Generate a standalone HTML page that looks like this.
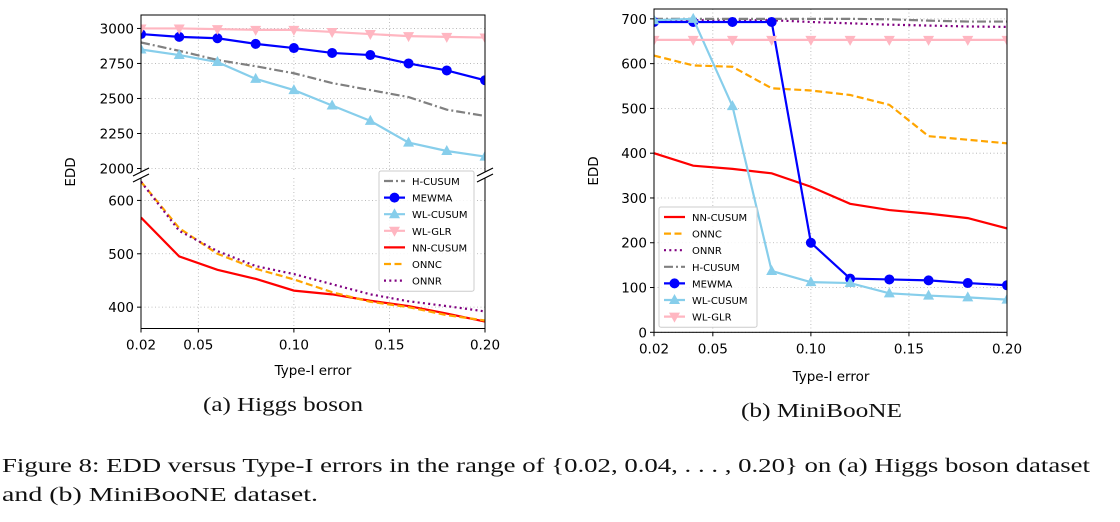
<!DOCTYPE html>
<html><head><meta charset="utf-8"><style>
html,body{margin:0;padding:0;background:#fff;width:1120px;height:522px;overflow:hidden}
svg{display:block}
svg text{font-family:"DejaVu Sans","Liberation Sans",sans-serif}
.cap{font-family:"Liberation Serif",serif;fill:#111}
</style></head><body>
<svg id="fig" width="1120" height="522" xmlns="http://www.w3.org/2000/svg">
<g id="A"></g>
<g id="B"></g>
<text class="cap" x="203" y="411" font-size="20" textLength="160" lengthAdjust="spacingAndGlyphs">(a) Higgs boson</text>
<text class="cap" x="741" y="417" font-size="20" textLength="161" lengthAdjust="spacingAndGlyphs">(b) MiniBooNE</text>
<text class="cap" x="2" y="472" font-size="20" textLength="1088" lengthAdjust="spacingAndGlyphs">Figure 8: EDD versus Type-I errors in the range of {0.02, 0.04, . . . , 0.20} on (a) Higgs boson dataset</text>
<text class="cap" x="2" y="501" font-size="20" textLength="316" lengthAdjust="spacingAndGlyphs">and (b) MiniBooNE dataset.</text>
</svg>
<script>
const xs=[0.02,0.04,0.06,0.08,0.10,0.12,0.14,0.16,0.18,0.20];
const xTicks=[0.02,0.05,0.10,0.15,0.20];
const xTickLabels=["0.02","0.05","0.10","0.15","0.20"];
// Higgs
const higgsWLGLR=[3000,3000,2995,2990,2990,2975,2960,2945,2940,2935];
const higgsMEWMA=[2960,2940,2930,2890,2860,2825,2810,2750,2700,2630];
const higgsHCUSUM=[2900,2840,2775,2730,2680,2610,2560,2510,2420,2375];
const higgsWLCUSUM=[2850,2810,2760,2640,2560,2450,2340,2185,2125,2085];
const higgsNNCUSUM=[568,495,470,453,431,424,412,402,388,373];
const higgsONNC=[635,548,500,472,452,428,410,400,385,375];
const higgsONNR=[635,543,505,477,462,443,424,411,402,392];
const higgsUpperTicks=[2000,2250,2500,2750,3000];
const higgsLowerTicks=[400,500,600];
// MiniBooNE
const mbNNCUSUM=[400,372,365,355,325,287,273,265,255,232];
const mbONNC=[618,596,593,545,540,530,508,438,430,422];
const mbONNR=[697,697,697,697,693,690,687,685,683,682];
const mbHCUSUM=[700,700,700,700,700,700,699,696,694,694];
const mbMEWMA=[693,693,693,693,200,120,118,116,110,105];
const mbWLCUSUM=[697,700,505,137,112,110,87,82,78,73];
const mbWLGLR=[653,653,653,653,653,653,653,653,653,653];
const mbTicks=[0,100,200,300,400,500,600,700];

const NS="http://www.w3.org/2000/svg";
function el(p,t,a){const e=document.createElementNS(NS,t);for(const k in a)e.setAttribute(k,a[k]);p.appendChild(e);return e;}
const STY={
 "NN-CUSUM":{c:"#ff0000",d:"",m:null},
 "ONNC":{c:"#ffa500",d:"7,3.5",m:null},
 "ONNR":{c:"#800080",d:"2,3.3",m:null},
 "H-CUSUM":{c:"#808080",d:"9,3,2,3",m:null},
 "MEWMA":{c:"#0000ff",d:"",m:"o"},
 "WL-CUSUM":{c:"#87ceeb",d:"",m:"^"},
 "WL-GLR":{c:"#ffb6c1",d:"",m:"v"}};
function marker(g,m,x,y,c){
 let e;
 if(m==="o")e=el(g,"circle",{cx:x,cy:y,r:5,fill:c});
 else if(m==="^")e=el(g,"polygon",{points:`${x},${y-6} ${x-5.5},${y+4} ${x+5.5},${y+4}`,fill:c});
 else e=el(g,"polygon",{points:`${x},${y+6} ${x-5.5},${y-4} ${x+5.5},${y-4}`,fill:c});
 
 
}
function series(g,name,vals,sx,sy,clip){
 const s=STY[name];
 const grp=el(g,"g",{});
 
 
 if(clip)grp.setAttribute('clip-path','url(#'+clip+')');
 const pts=vals.map((v,i)=>sx(xs[i])+","+sy(v)).join(" ");
 el(grp,"polyline",{points:pts,fill:"none",stroke:s.c,"stroke-width":2.2,"stroke-dasharray":s.d});
 if(s.m)vals.forEach((v,i)=>marker(grp,s.m,sx(xs[i]),sy(v),s.c));
}
function xAxis(g,sx,y0,y1,bottom){
 xTicks.forEach((t,i)=>{
  const x=sx(t);
  const gl=el(g,"line",{x1:x,x2:x,y1:y0,y2:y1,stroke:"#b0b0b0","stroke-width":0.8,"stroke-dasharray":"1,2.5"});
  
  
  if(bottom>600)return;
  el(g,"line",{x1:x,x2:x,y1:bottom,y2:bottom+4,stroke:"#000","stroke-width":1});
  const tx=el(g,"text",{x:x,y:bottom+21,"font-size":13.5,"text-anchor":"middle"});tx.textContent=xTickLabels[i];
  
  
 });
}
function yAxis(g,ticks,sy,x0,x1){
 ticks.forEach(t=>{
  const y=sy(t);
  const gl=el(g,"line",{x1:x0,x2:x1,y1:y,y2:y,stroke:"#b0b0b0","stroke-width":0.8,"stroke-dasharray":"1,2.5"});
  
  
  el(g,"line",{x1:x0-4,x2:x0,y1:y,y2:y,stroke:"#000","stroke-width":1});
  const tx=el(g,"text",{x:x0-7,y:y+5,"font-size":13.5,"text-anchor":"end"});tx.textContent=String(t);
  
  
 });
}
function legend(g,x,y,w,names){
 const lg=el(g,"g",{});
 
 
 el(lg,"rect",{x:x,y:y,width:w,height:names.length*16.6+4,fill:"#fff","fill-opacity":0.85,stroke:"#ccc","stroke-width":1,rx:2});
 names.forEach((n,i)=>{
  const s=STY[n];const yy=y+10+i*16.6;
  const en=el(lg,"g",{});
  
  
  el(en,"line",{x1:x+5,x2:x+26,y1:yy,y2:yy,stroke:s.c,"stroke-width":2.2,"stroke-dasharray":s.d});
  if(s.m)marker(en,s.m,x+15.5,yy,s.c);
  const t=el(en,"text",{x:x+33,y:yy+4,"font-size":10});t.textContent=n;
 });
}
// ---- Chart A ----
(function(){
 const g=document.getElementById("A");
 const L=141,R=485;
 const sx=v=>L+(v-0.02)/(0.18)*(R-L);
 const uT=15,uB=172,uMin=1975,uMax=3096;
 const syU=v=>uB-(v-uMin)/(uMax-uMin)*(uB-uT);
 const lT=178,lB=328.5,lMin=360,lMax=642;
 const syL=v=>lB-(v-lMin)/(lMax-lMin)*(lB-lT);
 const defs=el(g,"defs",{});
 const c1=el(defs,"clipPath",{id:"cu"});el(c1,"rect",{x:L,y:uT,width:R-L,height:uB-uT});
 const c2=el(defs,"clipPath",{id:"cl"});el(c2,"rect",{x:L,y:lT,width:R-L,height:lB-lT});
 xAxis(g,sx,uT,uB,9999);xAxis(g,sx,lT,lB,lB);
 yAxis(g,higgsUpperTicks,syU,L,R);yAxis(g,higgsLowerTicks,syL,L,R);
 series(g,"H-CUSUM",higgsHCUSUM,sx,syU,"cu");
 series(g,"MEWMA",higgsMEWMA,sx,syU,"cu");
 series(g,"WL-CUSUM",higgsWLCUSUM,sx,syU,"cu");
 series(g,"WL-GLR",higgsWLGLR,sx,syU,"cu");
 series(g,"NN-CUSUM",higgsNNCUSUM,sx,syL,"cl");
 series(g,"ONNC",higgsONNC,sx,syL,"cl");
 series(g,"ONNR",higgsONNR,sx,syL,"cl");
 el(g,"polyline",{points:`${L},${uB} ${L},${uT} ${R},${uT} ${R},${uB}`,fill:"none",stroke:"#000","stroke-width":1});
 el(g,"polyline",{points:`${L},${lT} ${L},${lB} ${R},${lB} ${R},${lT}`,fill:"none",stroke:"#000","stroke-width":1});
 [[L,uB],[R,uB],[L,lT],[R,lT]].forEach(p=>el(g,"line",{x1:p[0]-8,y1:p[1]+4,x2:p[0]+8,y2:p[1]-4,stroke:"#000","stroke-width":1.2}));
 legend(g,379,171,95,["H-CUSUM","MEWMA","WL-CUSUM","WL-GLR","NN-CUSUM","ONNC","ONNR"]);
 const yl=el(g,"text",{x:0,y:0,"font-size":13.5,"text-anchor":"middle",transform:"translate(75,172) rotate(-90)"});yl.textContent="EDD";
 
 const xl=el(g,"text",{x:313,y:375,"font-size":13.5,"text-anchor":"middle"});xl.textContent="Type-I error";
 
})();
// ---- Chart B ----
(function(){
 const g=document.getElementById("B");
 const L=654,R=1007,T=9,Bt=332.3,yMax=722;
 const sx=v=>L+(v-0.02)/(0.18)*(R-L);
 const sy=v=>Bt-v/yMax*(Bt-T);
 const defs=el(g,"defs",{});
 const c=el(defs,"clipPath",{id:"cb"});el(c,"rect",{x:L,y:T,width:R-L,height:Bt-T});
 xAxis(g,sx,T,Bt,Bt);yAxis(g,mbTicks,sy,L,R);
 series(g,"NN-CUSUM",mbNNCUSUM,sx,sy,"cb");
 series(g,"ONNC",mbONNC,sx,sy,"cb");
 series(g,"ONNR",mbONNR,sx,sy,"cb");
 series(g,"H-CUSUM",mbHCUSUM,sx,sy,"cb");
 series(g,"MEWMA",mbMEWMA,sx,sy,"cb");
 series(g,"WL-CUSUM",mbWLCUSUM,sx,sy,"cb");
 series(g,"WL-GLR",mbWLGLR,sx,sy,"cb");
 el(g,"rect",{x:L,y:T,width:R-L,height:Bt-T,fill:"none",stroke:"#000","stroke-width":1});
 legend(g,659,207,98,["NN-CUSUM","ONNC","ONNR","H-CUSUM","MEWMA","WL-CUSUM","WL-GLR"]);
 const yl=el(g,"text",{x:0,y:0,"font-size":13.5,"text-anchor":"middle",transform:"translate(598,171) rotate(-90)"});yl.textContent="EDD";
 
 const xl=el(g,"text",{x:831,y:381,"font-size":13.5,"text-anchor":"middle"});xl.textContent="Type-I error";
 
})();
</script>
</body></html>
